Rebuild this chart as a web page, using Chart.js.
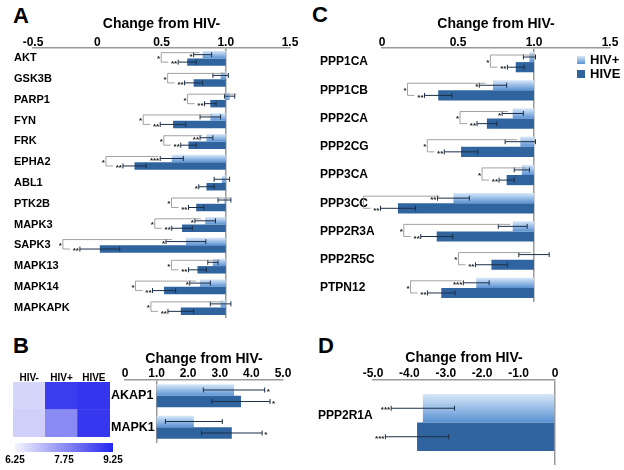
<!DOCTYPE html>
<html>
<head>
<meta charset="utf-8">
<script src="https://cdn.jsdelivr.net/npm/chart.js@4.4.0/dist/chart.umd.min.js"></script>
<style>
body{margin:0;background:#fff;width:624px;height:470px;position:relative;overflow:hidden;font-family:"Liberation Sans",Arial,sans-serif;}
canvas{position:absolute;}
.big{position:absolute;font-weight:bold;font-size:22px;line-height:22px;}
.leg{position:absolute;font-weight:bold;font-size:13px;line-height:13px;}
.leg span{display:inline-block;width:8px;height:8px;margin-right:5px;vertical-align:0px;}
</style>
</head>
<body>
<div class="big" style="left:13px;top:5px">A</div>
<div class="big" style="left:312px;top:4px">C</div>
<div class="big" style="left:13px;top:335px">B</div>
<div class="big" style="left:318px;top:335px">D</div>

<canvas id="chartA" width="310" height="325" style="left:0;top:0"></canvas>
<canvas id="chartC" width="314" height="310" style="left:310px;top:0"></canvas>
<canvas id="heat" width="120" height="75" style="left:0;top:366px"></canvas>
<canvas id="scaleBar" width="125" height="32" style="left:0;top:438px"></canvas>
<canvas id="chartB" width="200" height="120" style="left:110px;top:330px"></canvas>
<canvas id="chartD" width="314" height="140" style="left:310px;top:330px"></canvas>

<div class="leg" style="left:577px;top:53px"><span style="background:linear-gradient(#d8e8f9,#5a92d3)"></span>HIV+</div>
<div class="leg" style="left:577px;top:67px"><span style="background:#2f649f"></span>HIVE</div>

<script>
// panel A
var genesA = ['AKT','GSK3B','PARP1','FYN','FRK','EPHA2','ABL1','PTK2B','MAPK3','SAPK3','MAPK13','MAPK14','MAPKAPK'];
var hivPosA  = [0.82,0.96,1.03,0.88,0.85,0.58,0.97,0.99,0.84,0.69,0.90,0.80,0.96];
var hiveA    = [0.70,0.75,0.88,0.59,0.71,0.29,0.85,0.77,0.66,0.02,0.78,0.52,0.65];
var errPosA  = [0.07,0.06,0.04,0.08,0.05,0.09,0.06,0.05,0.08,0.155,0.04,0.08,0.08];
var errHiveA = [0.07,0.07,0.045,0.10,0.06,0.09,0.06,0.06,0.08,0.155,0.07,0.09,0.10];
var starsPosA  = ['*','','','','**','***','','','*','*','','*',''];
var starsHiveA = ['**','**','**','**','**','**','*','**','**','**','**','**','**'];
var bracketA = [1,1,1,1,1,1,0,1,1,1,1,1,1];
var ticksA = [-0.5,0,0.5,1.0,1.5];

// panel C
var genesC = ['PPP1CA','PPP1CB','PPP2CA','PPP2CG','PPP3CA','PPP3CC','PPP2R3A','PPP2R5C','PTPN12'];
var hivPosC  = [0.97,0.73,0.86,0.91,0.92,0.47,0.86,1.00,0.62];
var hiveC    = [0.88,0.37,0.69,0.52,0.82,0.105,0.36,0.72,0.39];
var errPosC  = [0.04,0.09,0.07,0.10,0.05,0.105,0.095,0.10,0.085];
var errHiveC = [0.055,0.09,0.065,0.11,0.05,0.115,0.105,0.105,0.09];
var starsPosC  = ['','*','*','','','**','','','***'];
var starsHiveC = ['**','**','**','**','**','**','**','**','**'];
var bracketC = [1,1,1,1,1,1,1,1,1];
var ticksC = [0,0.5,1.0,1.5];

// panel B
var genesB = ['AKAP1','MAPK1'];
var groupsB = ['HIV-','HIV+','HIVE'];
var heatAKAP1 = [6.69,8.92,9.03];
var heatMAPK1 = [6.79,7.79,9.00];
var heatTicks = [6.25,7.75,9.25];
var hivPosB  = [3.45,2.18];
var hiveB    = [3.67,3.38];
var errPosB  = [0.97,0.90];
var errHiveB = [0.92,0.96];
var starsPosB  = ['*',''];
var starsHiveB = ['*','*'];
var ticksB = [0,1,2,3,4,5];

// panel D
var genesD = ['PPP2R1A'];
var hivPosD  = [-3.63];
var hiveD    = [-3.79];
var errPosD  = [0.87];
var errHiveD = [0.87];
var starsD   = ['***'];
var ticksD = [-5,-4,-3,-2,-1,0];

var FONT = '"Liberation Sans", Arial, sans-serif';
Chart.defaults.font.family = FONT;
Chart.defaults.font.weight = 'bold';
Chart.defaults.color = '#000';

function lightFill(c) {
  var chart = c.chart, ys = chart.scales.y;
  if (!ys || !chart.chartArea || c.dataIndex == null) return '#8fbbe9';
  var mid = ys.getPixelForValue(c.dataIndex);
  var h = ys.height / chart.data.labels.length * c.dataset.categoryPercentage / 2;
  var g = chart.ctx.createLinearGradient(0, mid - h, 0, mid);
  g.addColorStop(0, '#d8e8f9');
  g.addColorStop(1, '#5a92d3');
  return g;
}

var errorBars = {
  id: 'errorBars',
  afterDatasetsDraw: function(chart) {
    var ctx = chart.ctx, xs = chart.scales.x;
    chart.data.datasets.forEach(function(ds, di) {
      if (!ds.errors) return;
      chart.getDatasetMeta(di).data.forEach(function(bar, i) {
        var v = ds.values[i], e = ds.errors[i];
        var a = xs.getPixelForValue(v - e), b = xs.getPixelForValue(v + e), y = bar.y;
        ctx.save();
        ctx.strokeStyle = '#1c2f48';
        ctx.lineWidth = 1;
        ctx.beginPath();
        ctx.moveTo(a, y); ctx.lineTo(b, y);
        ctx.moveTo(a, y - 2.5); ctx.lineTo(a, y + 2.5);
        ctx.moveTo(b, y - 2.5); ctx.lineTo(b, y + 2.5);
        ctx.stroke();
        if (ds.stars && ds.stars[i]) {
          ctx.fillStyle = '#222';
          ctx.font = 'bold 8px ' + FONT;
          ctx.textBaseline = 'middle';
          if (ds.starSide == 'right') {
            ctx.textAlign = 'left';
            ctx.fillText(ds.stars[i], b + 2, y + 2);
          } else {
            ctx.textAlign = 'right';
            ctx.fillText(ds.stars[i], a - 1, y + 2);
          }
        }
        ctx.restore();
      });
    });
  }
};

var brackets = {
  id: 'brackets',
  afterDatasetsDraw: function(chart, args, opts) {
    if (!opts.rows) return;
    var ctx = chart.ctx, xs = chart.scales.x;
    var p = chart.data.datasets[0], h = chart.data.datasets[1];
    var mp = chart.getDatasetMeta(0).data, mh = chart.getDatasetMeta(1).data;
    opts.rows.forEach(function(on, i) {
      if (!on) return;
      var xl = xs.getPixelForValue(p.values[i] - p.errors[i]) - (p.stars[i] ? p.stars[i].length * 4 + 2 : 0);
      var xd = xs.getPixelForValue(h.values[i] - h.errors[i]) - h.stars[i].length * 4 - 2;
      var xb = Math.min(xl, xd) - 7;
      var y1 = mp[i].y + 1, y2 = mh[i].y;
      ctx.save();
      ctx.strokeStyle = '#8a8a8a';
      ctx.lineWidth = 0.8;
      ctx.beginPath();
      ctx.moveTo(xl + 12, y1 - 3); ctx.lineTo(xb, y1 - 3); ctx.lineTo(xb, y2); ctx.lineTo(xd, y2);
      ctx.stroke();
      ctx.fillStyle = '#222';
      ctx.font = 'bold 8px ' + FONT;
      ctx.textAlign = 'right';
      ctx.textBaseline = 'middle';
      ctx.fillText('*', xb - 1, (y1 + y2) / 2);
      ctx.restore();
    });
  }
};

Chart.register(errorBars, brackets);

function fmt(v) { return v == 0 ? '0' : v.toFixed(1); }

function xAxis(min, max, ticks, base, topH, tickPad) {
  return {
    position: 'top', min: min, max: max,
    afterBuildTicks: function(s) { s.ticks = ticks.map(function(v) { return {value: v}; }); },
    afterFit: function(s) { s.height = topH; },
    ticks: {font: {size: 12}, padding: tickPad, callback: function(v) { return fmt(v); }},
    grid: {drawTicks: false, lineWidth: 1.5,
      color: function(c) { return c.tick && c.tick.value == base ? '#9a9a9a' : 'rgba(0,0,0,0)'; }},
    border: {display: true, color: '#9a9a9a', width: 1.5},
    title: {display: true, text: 'Change from HIV-', font: {size: 14}, padding: {top: 0, bottom: 3}}
  };
}

function barSets(pos, hive, ePos, eHive, sPos, sHive, pct, toBar) {
  return [
    {label: 'HIV+', data: pos.map(toBar), values: pos, errors: ePos, stars: sPos,
     backgroundColor: lightFill, categoryPercentage: pct, barPercentage: 1},
    {label: 'HIVE', data: hive.map(toBar), values: hive, errors: eHive, stars: sHive,
     backgroundColor: '#2f649f', categoryPercentage: pct, barPercentage: 1}
  ];
}

// labels drawn mirrored so they are not clipped to the narrow axis box
function yLeft(width, font, pad, extra) {
  var y = {
    afterFit: function(s) { s.width = width; },
    ticks: {font: {size: font}, mirror: true, padding: pad},
    grid: {display: false, drawTicks: false},
    border: {display: false}
  };
  for (var k in extra) y.ticks[k] = extra[k];
  return y;
}

var baseOpts = {responsive: false, animation: false, indexAxis: 'y',
  plugins: {legend: {display: false}, tooltip: {enabled: false}}};

function opts(extra) {
  var o = JSON.parse(JSON.stringify(baseOpts));
  for (var k in extra) o[k] = extra[k];
  return o;
}

// A
new Chart(document.getElementById('chartA'), {
  type: 'bar',
  data: {labels: genesA, datasets: barSets(hivPosA, hiveA, errPosA, errHiveA, starsPosA, starsHiveA, 0.72, function(v) { return [v, 1]; })},
  options: opts({
    layout: {padding: {left: 14, right: 20, top: 16, bottom: 7}},
    scales: {x: xAxis(-0.5, 1.5, ticksA, 1, 32, -2), y: yLeft(19, 11, -19)},
    plugins: {legend: {display: false}, tooltip: {enabled: false}, brackets: {rows: bracketA}}
  })
});

// C
new Chart(document.getElementById('chartC'), {
  type: 'bar',
  data: {labels: genesC, datasets: barSets(hivPosC, hiveC, errPosC, errHiveC, starsPosC, starsHiveC, 0.72, function(v) { return [v, 1]; })},
  options: opts({
    layout: {padding: {left: 10, right: 14, top: 16, bottom: 8}},
    scales: {x: xAxis(0, 1.5, ticksC, 1, 32, -2), y: yLeft(62, 12, -62)},
    plugins: {legend: {display: false}, tooltip: {enabled: false}, brackets: {rows: bracketC}}
  })
});

// B heatmap
function heatColor(v) {
  var t = (v - heatTicks[0]) / (heatTicks[2] - heatTicks[0]);
  var r = Math.round(244 - t * 206), g = Math.round(244 - t * 206), b = Math.round(253 - t * 15);
  return 'rgb(' + r + ',' + g + ',' + b + ')';
}
new Chart(document.getElementById('heat'), {
  type: 'bar',
  data: {labels: groupsB, datasets: [
    {label: 'MAPK1', data: [1,1,1], backgroundColor: heatMAPK1.map(heatColor), barPercentage: 1, categoryPercentage: 1},
    {label: 'AKAP1', data: [1,1,1], backgroundColor: heatAKAP1.map(heatColor), barPercentage: 1, categoryPercentage: 1}
  ]},
  options: {responsive: false, animation: false,
    layout: {padding: {left: 13, right: 10, top: 0, bottom: 4}},
    plugins: {legend: {display: false}, tooltip: {enabled: false}},
    scales: {
      x: {position: 'top', stacked: true, afterFit: function(s) { s.height = 16; },
        ticks: {font: {size: 10}, padding: -2}, grid: {display: false, drawTicks: false}, border: {display: false}},
      y: {stacked: true, min: 0, max: 2, display: false}
    }
  }
});

// B colour scale
new Chart(document.getElementById('scaleBar'), {
  type: 'bar',
  data: {labels: [''], datasets: [{data: [[heatTicks[0], heatTicks[2]]], barPercentage: 1, categoryPercentage: 1,
    backgroundColor: function(c) {
      var ca = c.chart.chartArea;
      if (!ca) return heatColor(7.75);
      var g = c.chart.ctx.createLinearGradient(ca.left, 0, ca.right, 0);
      g.addColorStop(0, heatColor(heatTicks[0]));
      g.addColorStop(1, heatColor(heatTicks[2]));
      return g;
    }}]},
  options: opts({
    layout: {padding: {left: 15, right: 12, top: 5, bottom: 4}},
    scales: {
      x: {min: heatTicks[0], max: heatTicks[2],
        afterBuildTicks: function(s) { s.ticks = heatTicks.map(function(v) { return {value: v}; }); },
        afterFit: function(s) { s.height = 14; },
        ticks: {font: {size: 10}, padding: 2, callback: function(v) { return v.toFixed(2); }},
        grid: {display: false, drawTicks: false}, border: {display: false}},
      y: {display: false}
    }
  })
});

// B bars
var setsB = barSets(hivPosB, hiveB, errPosB, errHiveB, starsPosB, starsHiveB, 0.73, function(v) { return [1, v]; });
setsB[0].starSide = 'right'; setsB[1].starSide = 'right';
new Chart(document.getElementById('chartB'), {
  type: 'bar',
  data: {labels: genesB, datasets: setsB},
  options: opts({
    layout: {padding: {left: 5, right: 27, top: 21, bottom: 7}},
    scales: {x: xAxis(0, 5, ticksB, 1, 29, -1), y: yLeft(10, 12.5, -14)}
  })
});

// D
var setsD = barSets(hivPosD, hiveD, errPosD, errHiveD, starsD, starsD, 0.67, function(v) { return v; });
new Chart(document.getElementById('chartD'), {
  type: 'bar',
  data: {labels: genesD, datasets: setsD},
  options: opts({
    layout: {padding: {left: 8, right: 69, top: 20, bottom: 5}},
    scales: {x: xAxis(-5, 0, ticksD, 0, 30, -1), y: yLeft(55, 12, -55, {labelOffset: -7})}
  })
});
</script>
</body>
</html>
